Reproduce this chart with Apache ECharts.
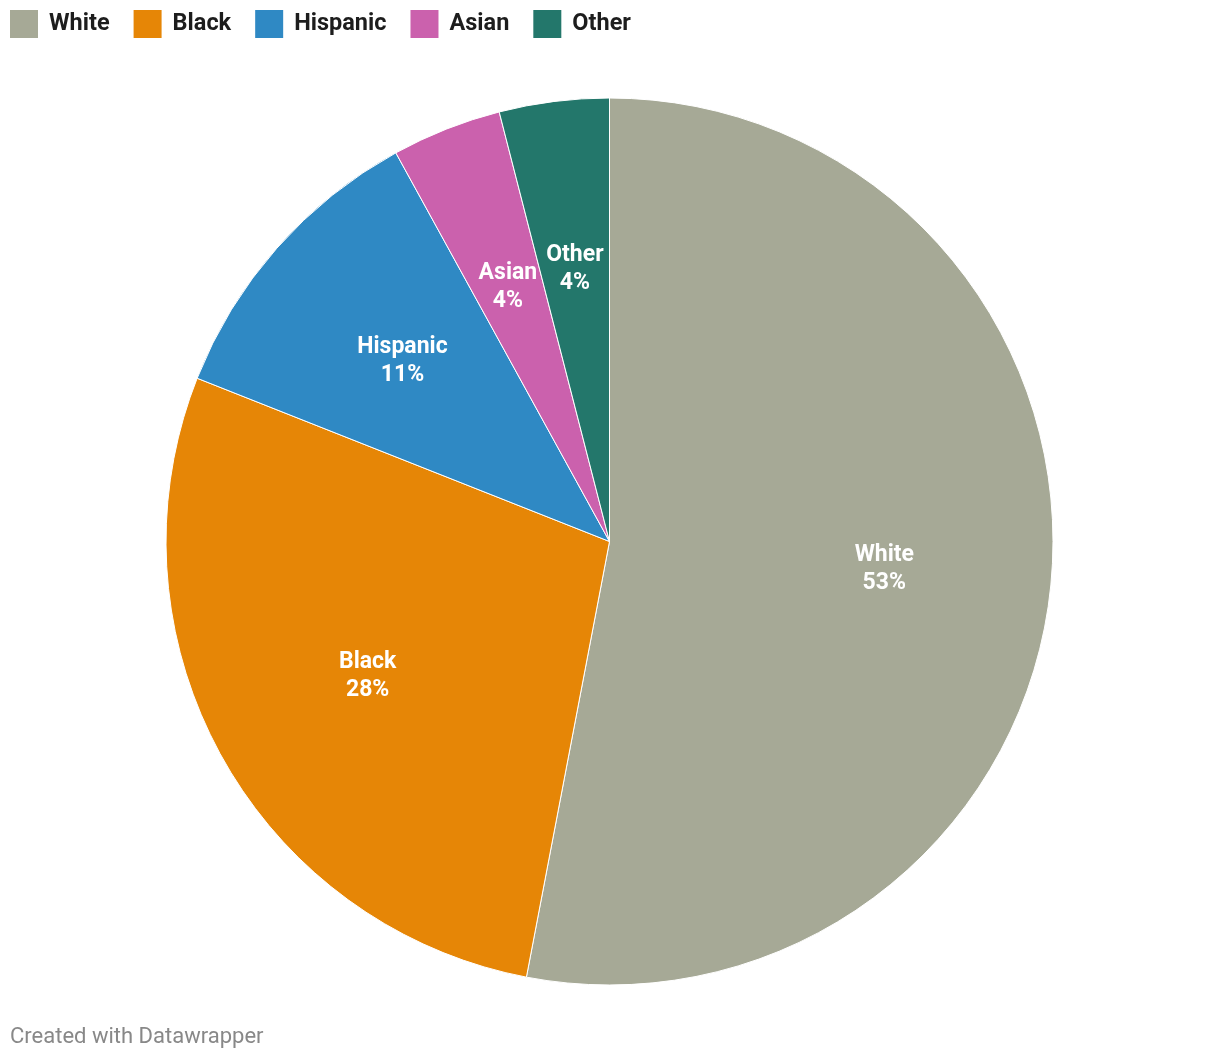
<!DOCTYPE html>
<html><head><meta charset="utf-8">
<script src="https://cdn.jsdelivr.net/npm/echarts@6/dist/echarts.min.js"></script>
<style>html,body{margin:0;padding:0;background:#fff}#c{width:1220px;height:1062px}</style>
</head><body><div id="c"></div>
<script>
const categories = ['White', 'Black', 'Hispanic', 'Asian', 'Other'];
const values = [53, 28, 11, 4, 4];
const colors = ['#a6a996', '#e68606', '#2f89c4', '#cb61ad', '#23776b'];

const chart = echarts.init(document.getElementById('c'));
const data = categories.map((c, i) => ({ name: c, value: values[i], itemStyle: { color: colors[i] } }));
const labelData = categories.map((c, i) => ({ name: c, value: values[i] }));
chart.setOption({
  animation: false,
  legend: {
    left: 10, top: 10, itemWidth: 28, itemHeight: 28, itemGap: 24,
    icon: 'rect', padding: 0,
    itemStyle: { borderWidth: 0 },
    data: categories,
    textStyle: { fontFamily: 'Roboto', fontWeight: 'bold', fontSize: 23.5, color: '#1d1d1d', padding: [3, 0, 0, 6] }
  },
  graphic: [{
    type: 'text', left: 10, top: 1026,
    style: { text: 'Created with Datawrapper', fontFamily: 'Roboto', fontSize: 22, fill: '#888888' }
  }],
  series: [{
    type: 'pie', center: [609.5, 541.5], radius: [0, 443.5], startAngle: 90, clockwise: true,
    data: data, label: { show: false }, labelLine: { show: false },
    itemStyle: { borderColor: '#ffffff', borderWidth: 1 },
    emphasis: { disabled: true }
  }, {
    type: 'pie', center: [609.5, 543.5], radius: [110, 436], startAngle: 90, clockwise: true,
    silent: true, legendHoverLink: false,
    data: labelData,
    itemStyle: { color: 'rgba(0,0,0,0)' },
    label: {
      show: true, position: 'inside', formatter: p => p.name + '\n' + p.value + '%',
      fontFamily: 'Roboto', fontWeight: 'bold', fontSize: 23, lineHeight: 28, color: '#ffffff', align: 'center'
    },
    labelLine: { show: false },
    emphasis: { disabled: true }
  }]
});
</script></body></html>
